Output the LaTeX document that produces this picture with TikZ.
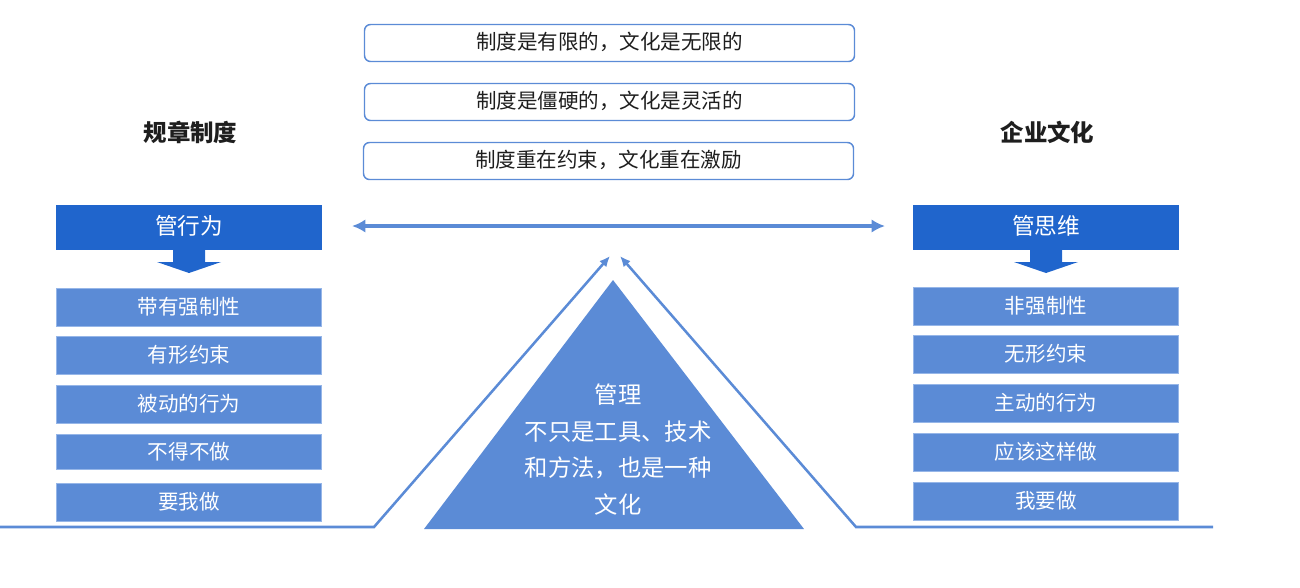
\documentclass[tikz,border=0pt]{standalone}
\usepackage{fontspec}
\usetikzlibrary{arrows.meta}
\setmainfont{Noto Sans CJK SC}
\definecolor{hdrblue}{RGB}{32,101,204}
\definecolor{itemblue}{RGB}{91,139,214}
\definecolor{itemedge}{RGB}{150,182,232}
\definecolor{inktext}{RGB}{30,30,30}
\tikzset{
  notebox/.style={draw=itemblue,line width=1.1pt,rounded corners=4.5pt,fill=white,text=inktext,inner sep=0pt,outer sep=0pt,minimum width=367.5pt,minimum height=27.75pt,text height=12.2pt,text depth=2.5pt,font=\fontsize{15.4}{18}\selectfont},
  hdrbox/.style={fill=hdrblue,text=white,inner sep=0pt,outer sep=0pt,minimum width=199.5pt,minimum height=33.75pt,text height=13.5pt,text depth=2.5pt,font=\fontsize{17}{20}\selectfont},
  itembox/.style={draw=itemedge,line width=0.4pt,fill=itemblue,text=white,inner sep=0pt,outer sep=0pt,minimum width=199pt,text height=12.5pt,text depth=2pt,font=\fontsize{15.4}{18}\selectfont},
  titletext/.style={inner sep=0pt,text=inktext,font=\fontsize{17.6}{21}\selectfont\bfseries},
  blueline/.style={draw=itemblue,line width=1.9pt},
}
\begin{document}
\begin{tikzpicture}[x=0.75pt,y=0.75pt,yscale=-1,xscale=1]
\useasboundingbox (0,0) rectangle (1300,587);

% Top boxes
\node [notebox] (noteA) at (609.5,43) {制度是有限的，文化是无限的};
\node [notebox] (noteB) at (609.5,102) {制度是僵硬的，文化是灵活的};
\node [notebox] (noteC) at (608.5,161) {制度重在约束，文化重在激励};

% Titles
\node [titletext] (titleL) at (190.5,132) {规章制度};
\node [titletext] (titleR) at (1047.5,132) {企业文化};

% Left column
\node [hdrbox] (hdrL) at (189,227.5) {管行为};
\node [itembox,minimum height=28.5pt] (itemLa) at (189,307) {带有强制性};
\node [itembox,minimum height=28.5pt] (itemLb) at (189,355.5) {有形约束};
\node [itembox,minimum height=28.5pt] (itemLc) at (189,404.5) {被动的行为};
\node [itembox,minimum height=26.5pt,text depth=0.8pt] (itemLd) at (189,451.5) {不得不做};
\node [itembox,minimum height=28.5pt] (itemLe) at (189,502) {要我做};

% Right column
\node [hdrbox] (hdrR) at (1046,227.5) {管思维};
\node [itembox,minimum height=28.5pt] (itemRa) at (1046,306) {非强制性};
\node [itembox,minimum height=28.5pt] (itemRb) at (1046,354.5) {无形约束};
\node [itembox,minimum height=28.5pt] (itemRc) at (1046,403.5) {主动的行为};
\node [itembox,minimum height=28.5pt] (itemRd) at (1046,452) {应该这样做};
\node [itembox,minimum height=28.5pt] (itemRe) at (1046,501) {我要做};

% Down arrows
\fill [hdrblue] (hdrL.south) ++(-16,0) -- ++(32,0) -- ++(0,12) -- ++(16,0) -- ++(-32,11) -- ++(-32,-11) -- ++(16,0) -- cycle ;
\fill [hdrblue] (hdrR.south) ++(-16,0) -- ++(32,0) -- ++(0,12) -- ++(16,0) -- ++(-32,11) -- ++(-32,-11) -- ++(16,0) -- cycle ;

% Double arrow
\coordinate (spanL) at (352,226);
\coordinate (spanR) at (885,226);
\draw [blueline,line width=3pt,{Latex[length=10pt,width=10pt]}-{Latex[length=10pt,width=10pt]}] (spanL) -- (spanR) ;

% Triangle
\coordinate (apex) at (613,280);
\coordinate (baseL) at (424,529);
\coordinate (baseR) at (804,529);
\fill [itemblue] (apex) -- (baseL) -- (baseR) -- cycle ;

% Text Node
\node [text=white,inner sep=0pt,align=center,font=\fontsize{17.5}{27.5}\selectfont] (tritext) at (618,449.5) {管理\\不只是工具、技术\\和方法，也是一种\\文化};

% Ground lines
\coordinate (gndL) at (0,527);
\coordinate (kneeL) at (374,527);
\coordinate (tipL) at (610,256);
\coordinate (gndR) at (1213,527);
\coordinate (kneeR) at (856,527);
\coordinate (tipR) at (620,256);
\draw [blueline,-{Latex[length=8pt,width=7pt]}] (gndL) -- (kneeL) -- (tipL) ;
\draw [blueline,-{Latex[length=8pt,width=7pt]}] (gndR) -- (kneeR) -- (tipR) ;

\end{tikzpicture}
\end{document}
